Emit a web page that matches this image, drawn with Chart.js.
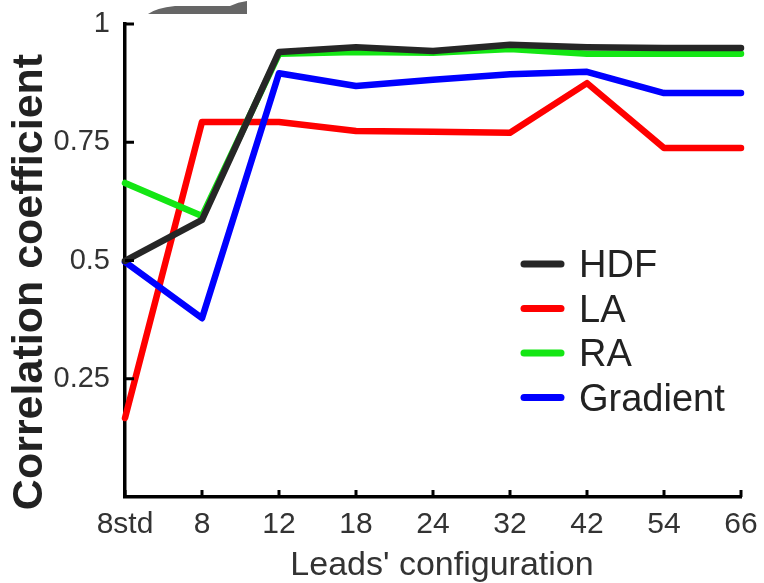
<!DOCTYPE html>
<html>
<head>
<meta charset="utf-8">
<script src="https://cdn.jsdelivr.net/npm/chart.js@4.4.0/dist/chart.umd.min.js"></script>
<style>
  html, body { margin: 0; padding: 0; background: #fff; }
  canvas { display: block; }
</style>
</head>
<body>
<canvas id="corrChart" width="764" height="583"></canvas>
<script>
// values
const leadConfigs = ['8std', '8', '12', '18', '24', '32', '42', '54', '66'];
const hdfValues = [0.499, 0.586, 0.941, 0.951, 0.943, 0.956, 0.951, 0.949, 0.949];
const laValues = [0.167, 0.793, 0.793, 0.774, 0.772, 0.770, 0.875, 0.738, 0.738];
const raValues = [0.664, 0.594, 0.937, 0.941, 0.939, 0.947, 0.937, 0.937, 0.937];
const gradientValues = [0.497, 0.378, 0.896, 0.869, 0.882, 0.894, 0.899, 0.854, 0.854];
const yTickValues = [0.25, 0.5, 0.75, 1];

const FONT = "'Liberation Sans', Arial, sans-serif";
const TEXT = '#333333';

function makeLine(label, values, color, order) {
    return {
        label: label,
        data: values,
        borderColor: color,
        backgroundColor: color,
        borderWidth: 6.5,
        borderCapStyle: 'round',
        borderJoinStyle: 'round',
        pointRadius: 0,
        tension: 0,
        fill: false,
        clip: false,
        order: order
    };
}

const datasets = [
    makeLine('HDF', hdfValues, '#262626', 0),
    makeLine('LA', laValues, '#ff0000', 3),
    makeLine('RA', raValues, '#14e614', 2),
    makeLine('Gradient', gradientValues, '#0000ff', 1)
];

// inward tick marks, like the original figure
const innerTicks = {
    id: 'innerTicks',
    afterDraw(chart) {
        const ctx = chart.ctx;
        const x = chart.scales.x, y = chart.scales.y;
        ctx.save();
        ctx.strokeStyle = '#000';
        ctx.lineWidth = 3;
        yTickValues.forEach(v => {
            const py = y.getPixelForValue(v);
            ctx.beginPath();
            ctx.moveTo(x.left, py);
            ctx.lineTo(x.left + 9, py);
            ctx.stroke();
        });
        leadConfigs.forEach((c, i) => {
            const px = x.getPixelForValue(i);
            ctx.beginPath();
            ctx.moveTo(px, y.bottom);
            ctx.lineTo(px, y.bottom - 7);
            ctx.stroke();
        });
        ctx.restore();
    }
};

// axis titles, placed like in the figure (not centred on the axes)
const axisTitles = {
    id: 'axisTitles',
    afterDraw(chart) {
        const ctx = chart.ctx;
        ctx.save();
        ctx.fillStyle = TEXT;
        ctx.font = '34px ' + FONT;
        ctx.textAlign = 'center';
        ctx.textBaseline = 'alphabetic';
        ctx.fillText("Leads' configuration", 442, 575);

        ctx.translate(42, 282);
        ctx.rotate(-Math.PI / 2);
        ctx.fillStyle = '#222';
        ctx.font = 'bold 43px ' + FONT;
        ctx.fillText('Correlation coefficient', 0, 0);
        ctx.restore();
    }
};

// legend drawn inside the plot, bottom right
const insideLegend = {
    id: 'insideLegend',
    afterDraw(chart) {
        const ctx = chart.ctx;
        const legendOrder = [0, 1, 2, 3];
        ctx.save();
        ctx.font = '38px ' + FONT;
        ctx.textBaseline = 'alphabetic';
        ctx.textAlign = 'left';
        legendOrder.forEach((di, k) => {
            const ds = chart.data.datasets[di];
            const cy = 264 + k * 44.5;
            ctx.strokeStyle = ds.borderColor;
            ctx.lineWidth = 7;
            ctx.lineCap = 'round';
            ctx.beginPath();
            ctx.moveTo(524, cy);
            ctx.lineTo(561, cy);
            ctx.stroke();
            ctx.fillStyle = '#222';
            ctx.fillText(ds.label, 579, cy + 13);
        });
        ctx.restore();
    }
};

// the grey scrap at the top edge of the scanned figure
const topScrap = {
    id: 'topScrap',
    afterDraw(chart) {
        const ctx = chart.ctx;
        ctx.save();
        ctx.fillStyle = '#666';
        ctx.beginPath();
        ctx.moveTo(148, 14);
        ctx.lineTo(247, 14);
        ctx.lineTo(247, 1);
        ctx.quadraticCurveTo(238, 2, 230, 6);
        ctx.lineTo(175, 6);
        ctx.quadraticCurveTo(156, 8, 148, 14);
        ctx.fill();
        ctx.restore();
    }
};

const ctx = document.getElementById('corrChart').getContext('2d');

new Chart(ctx, {
    type: 'line',
    data: {
        labels: leadConfigs,
        datasets: datasets
    },
    options: {
        responsive: false,
        animation: false,
        layout: {
            padding: { left: 0, right: 23, top: 24, bottom: 0 }
        },
        plugins: {
            legend: { display: false },
            tooltip: { enabled: false }
        },
        scales: {
            x: {
                type: 'category',
                offset: false,
                grid: { display: false, drawTicks: false },
                border: { display: true, color: '#000', width: 3.5 },
                ticks: {
                    color: TEXT,
                    padding: 10,
                    maxRotation: 0,
                    autoSkip: false,
                    font: { size: 30, family: FONT }
                },
                afterFit(scale) {
                    scale.height = 86;
                    scale.paddingLeft = 0;
                    scale.paddingRight = 0;
                }
            },
            y: {
                min: 0,
                max: 1,
                grid: { display: false, drawTicks: false },
                border: { display: true, color: '#000', width: 3.5 },
                afterBuildTicks(scale) {
                    scale.ticks = yTickValues.map(v => ({ value: v }));
                },
                ticks: {
                    color: TEXT,
                    padding: 15,
                    font: { size: 29, family: FONT },
                    callback: function (value) {
                        return String(value);
                    }
                },
                afterFit(scale) {
                    scale.width = 125;
                    scale.paddingTop = 0;
                    scale.paddingBottom = 0;
                }
            }
        }
    },
    plugins: [innerTicks, axisTitles, insideLegend, topScrap]
});
</script>
</body>
</html>
